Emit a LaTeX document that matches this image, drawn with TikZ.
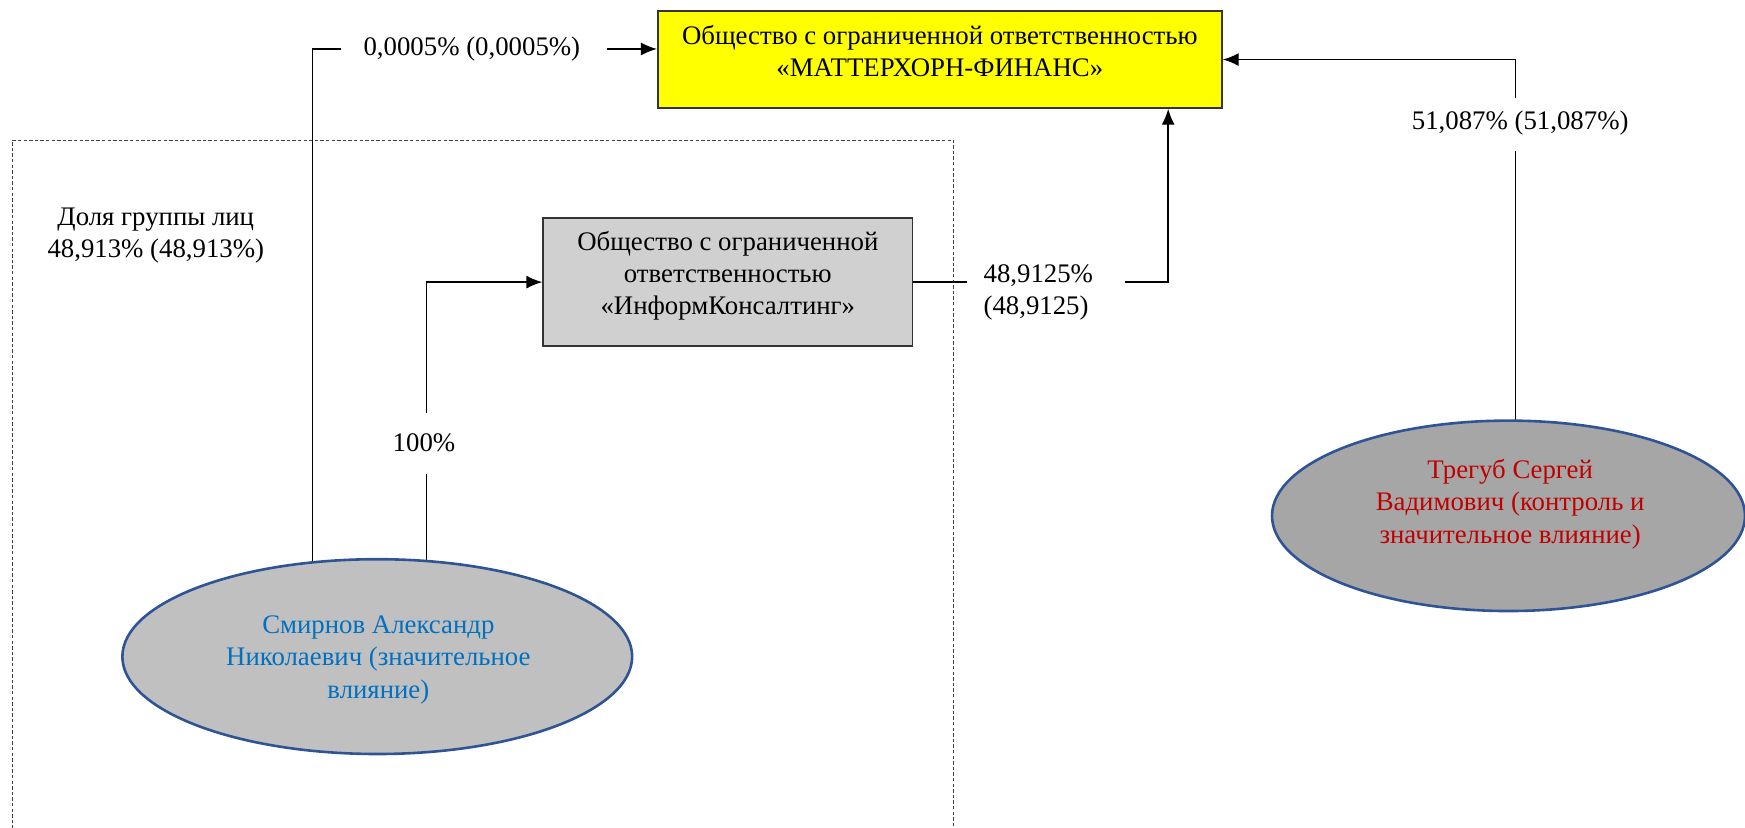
\documentclass[tikz,border=0pt]{standalone}
\usepackage{fontspec}
\setmainfont{Liberation Serif}
\usetikzlibrary{shapes.geometric,arrows.meta,backgrounds,calc}
\definecolor{ellblue}{HTML}{2F5496}
\definecolor{smirblue}{HTML}{0070C0}
\definecolor{tregred}{HTML}{C00000}
\definecolor{boxgray}{HTML}{D0D0D0}
\definecolor{boxyellow}{HTML}{FFFF00}
\definecolor{ellgrayA}{HTML}{C0C0C0}
\definecolor{ellgrayB}{HTML}{A6A6A6}
\begin{document}
\begin{tikzpicture}[x=0.55645pt,y=-0.55645pt,
  font=\fontsize{13.4pt}{16.1pt}\selectfont,
  conn/.style={draw=black, line width=0.72pt},
  arr/.style={conn, -{Latex[length=8pt,width=6.5pt]}},
  lbl/.style={inner sep=0pt, align=center},
  companybox/.style={draw=black!80, line width=0.8pt, inner sep=0pt},
  person/.style={ellipse, draw=ellblue, line width=1.3pt, inner sep=0pt},
  groupframe/.style={draw=black!75, line width=0.55pt, dash pattern=on 1.7pt off 1.1pt}]
\useasboundingbox (0,0) rectangle (1568,744);
% boxes
\node[companybox, fill=boxyellow, minimum width=282.1pt, minimum height=48.4pt] (mf) at (844.5,53.5) {};
\node[lbl] (mft) at (844.5,46) {Общество с ограниченной ответственностью\\«МАТТЕРХОРН-ФИНАНС»};
\node[companybox, fill=boxgray, minimum width=184.7pt, minimum height=64pt] (ik) at (654,253.5) {};
\node[lbl] (ikt) at (654,248) {Общество с ограниченной\\ответственностью\\«ИнформКонсалтинг»};
% persons
\node[person, fill=ellgrayA, minimum width=254.9pt, minimum height=97.4pt] (sm) at (339,590) {};
\node[lbl, text=smirblue] (smt) at (340,593) {Смирнов Александр\\Николаевич (значительное\\влияние)};
\node[person, fill=ellgrayB, minimum width=236.5pt, minimum height=95.2pt] (tr) at (1355.5,463.5) {};
\node[lbl, text=tregred] (trt) at (1357,453) {Трегуб Сергей\\Вадимович (контроль и\\значительное влияние)};
% labels
\node[lbl] (l1) at (424,44) {0,0005\% (0,0005\%)};
\node[lbl] (l2) at (381,398) {100\%};
\node[lbl, align=left] (l3) at (933,263) {48,9125\%\\(48,9125)};
\node[lbl] (l4) at (1366,111) {51,087\% (51,087\%)};
\node[lbl] (l5) at (140,212) {Доля группы лиц\\48,913\% (48,913\%)};
\begin{scope}[on background layer]
  \draw[groupframe] (11,780) |- (857,126) -- (857,780);
  \coordinate (a1) at ($(sm.center)+(-58,0)$);
  \draw[conn] (a1) |- ($(l1.west)+(-20,0)$);
  \draw[arr] ($(l1.east)+(24,0)$) -- (l1.east -| mf.west);
  \coordinate (a2) at ($(sm.center)+(44,0)$);
  \draw[conn] (a2) -- ($(a2 |- l2.south)+(0,19)$);
  \draw[arr] ($(a2 |- l2.north)+(0,-18)$) |- (ik.west);
  \draw[conn] (ik.east) -- ($(l3.west |- ik.east)+(-15,0)$);
  \draw[arr] ($(l3.east |- ik.east)+(28,0)$) -| ($(mf.south east)+(-49,0)$);
  \coordinate (a4) at ($(tr.center)+(6.5,0)$);
  \draw[conn] (a4) -- ($(a4 |- l4.south)+(0,13)$);
  \draw[arr] ($(a4 |- l4.north)+(0,-12)$) |- (mf.east);
\end{scope}
\end{tikzpicture}
\end{document}
